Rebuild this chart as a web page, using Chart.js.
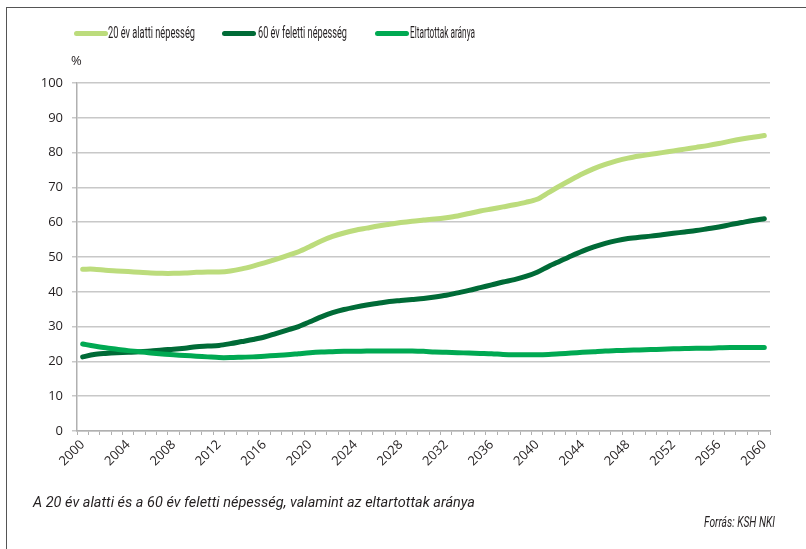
<!DOCTYPE html>
<html lang="hu">
<head>
    <meta charset="UTF-8">
    <title>Népesség</title>
    <script src="https://cdn.jsdelivr.net/npm/chart.js"></script>
    <style>
        body {
            margin: 0;
            width: 806px;
            height: 549px;
            position: relative;
            background: #fff;
            overflow: hidden;
            font-family: Roboto, "DejaVu Sans Condensed", sans-serif;
            color: #231f20;
        }
        #frame {
            position: absolute;
            left: 6px;
            top: 7px;
            width: 806px;
            height: 560px;
            border-top: 1.5px solid #555;
            border-left: 1.5px solid #555;
        }
        #chartBox {
            position: absolute;
            left: 0;
            top: 0;
            width: 806px;
            height: 549px;
        }
        .key {
            position: absolute;
            top: 31px;
            width: 34px;
            height: 5px;
            border-radius: 3px;
        }
        .fit {
            position: absolute;
            white-space: nowrap;
            transform-origin: left center;
        }
        .legend {
            top: 23px;
            font-size: 16px;
        }
        .note {
            font-size: 14px;
            font-style: italic;
        }
    </style>
</head>
<body>
    <div id="frame"></div>
    <div id="chartBox"><canvas id="myChart" width="806" height="549"></canvas></div>

    <div class="key" style="left:74px; background:#bcdc7c"></div>
    <div class="fit legend" style="left:108px" data-w="87">20 év alatti népesség</div>
    <div class="key" style="left:222px; background:#006b37"></div>
    <div class="fit legend" style="left:258px" data-w="89">60 év feletti népesség</div>
    <div class="key" style="left:375px; background:#00a952"></div>
    <div class="fit legend" style="left:410px" data-w="65">Eltartottak aránya</div>
    <div style="position:absolute; left:71px; top:51px; font-size:13px; font-family:'Open Sans', sans-serif;">%</div>
    <div class="fit note" style="left:33px; top:494px" data-w="442">A 20 év alatti és a 60 év feletti népesség, valamint az eltartottak aránya</div>
    <div class="fit note" style="left:704px; top:513px; font-size:15px" data-w="71">Forrás: KSH NKI</div>

    <script>
        const years = [];
        for (let y = 2000; y <= 2060; y++) years.push(String(y));

        const yTicks = [0, 10, 20, 30, 40, 50, 60, 70, 80, 90, 100];

        const under20 = [46.5, 46.5, 46.2, 46.0, 45.8, 45.6, 45.4, 45.3, 45.3, 45.4,
            45.6, 45.7, 45.7, 46.0, 46.6, 47.4, 48.3, 49.3, 50.4, 51.5,
            53.0, 54.6, 55.9, 56.9, 57.7, 58.3, 58.9, 59.4, 59.9, 60.3,
            60.6, 60.9, 61.3, 61.8, 62.5, 63.2, 63.8, 64.4, 65.0, 65.7,
            66.6, 68.5, 70.4, 72.2, 73.9, 75.4, 76.6, 77.6, 78.4, 79.0,
            79.5, 80.0, 80.5, 81.0, 81.5, 82.0, 82.6, 83.3, 83.9, 84.4, 84.9];

        const over60 = [21.3, 22.0, 22.3, 22.5, 22.6, 22.8, 23.0, 23.3, 23.5, 23.8,
            24.2, 24.4, 24.6, 25.1, 25.7, 26.3, 27.0, 28.0, 29.0, 30.0,
            31.4, 32.8, 34.0, 34.9, 35.6, 36.2, 36.7, 37.2, 37.5, 37.8,
            38.1, 38.5, 39.0, 39.7, 40.4, 41.2, 42.0, 42.8, 43.5, 44.4,
            45.6, 47.3, 48.8, 50.3, 51.7, 52.9, 53.9, 54.7, 55.3, 55.7,
            56.0, 56.4, 56.8, 57.2, 57.6, 58.1, 58.6, 59.3, 59.9, 60.5, 61.0];

        const dependents = [25.0, 24.4, 23.9, 23.5, 23.1, 22.8, 22.4, 22.1, 21.9, 21.7,
            21.5, 21.3, 21.1, 21.1, 21.2, 21.3, 21.5, 21.7, 21.9, 22.2,
            22.5, 22.7, 22.8, 22.9, 22.9, 23.0, 23.0, 23.0, 23.0, 23.0,
            22.9, 22.7, 22.6, 22.5, 22.4, 22.3, 22.2, 22.0, 21.9, 21.9,
            21.9, 22.0, 22.2, 22.4, 22.6, 22.8, 23.0, 23.1, 23.2, 23.3,
            23.4, 23.5, 23.6, 23.7, 23.8, 23.8, 23.9, 24.0, 24.0, 24.0, 24.0];

        // squeeze the texts to the narrow widths of the original
        document.querySelectorAll('.fit').forEach(function (el) {
            const k = parseFloat(el.dataset.w) / el.getBoundingClientRect().width;
            el.style.transform = 'scaleX(' + k + ')';
        });

        function line(label, data, color) {
            return {
                label: label,
                data: data,
                borderColor: color,
                backgroundColor: color,
                borderWidth: 5,
                pointRadius: 0,
                tension: 0.3,
                borderCapStyle: 'round',
                borderJoinStyle: 'round'
            };
        }

        const ctx = document.getElementById('myChart').getContext('2d');
        const myChart = new Chart(ctx, {
            type: 'line',
            data: {
                labels: years,
                datasets: [
                    line('Eltartottak aránya', dependents, '#00a952'),
                    line('60 év feletti népesség', over60, '#006b37'),
                    line('20 év alatti népesség', under20, '#bcdc7c')
                ]
            },
            options: {
                responsive: false,
                animation: false,
                layout: { padding: { top: 83, right: 36, bottom: 58, left: 0 } },
                plugins: {
                    legend: { display: false },
                    tooltip: { enabled: false }
                },
                scales: {
                    x: {
                        type: 'category',
                        offset: true,
                        afterFit: (s) => { s.height = 60; },
                        border: { color: '#b0b0b0', width: 1.5 },
                        grid: {
                            offset: true,
                            drawOnChartArea: false,
                            drawTicks: true,
                            tickLength: 4,
                            color: '#b0b0b0',
                            lineWidth: 1
                        },
                        ticks: {
                            autoSkip: false,
                            minRotation: 45,
                            maxRotation: 45,
                            padding: 2,
                            color: '#231f20',
                            font: { family: 'Open Sans', size: 13 },
                            callback: function (v, i) {
                                return i % 4 === 0 ? years[i] : '';
                            }
                        }
                    },
                    y: {
                        min: 0,
                        max: 100,
                        afterFit: (s) => { s.width = 77; },
                        afterBuildTicks: (s) => { s.ticks = yTicks.map(v => ({ value: v })); },
                        border: { color: '#b0b0b0', width: 1.5 },
                        grid: {
                            color: '#c8c8c8',
                            lineWidth: 1.5,
                            tickLength: 5
                        },
                        ticks: {
                            padding: 9,
                            color: '#231f20',
                            font: { family: 'Open Sans', size: 13 }
                        }
                    }
                }
            }
        });
    </script>
</body>
</html>
